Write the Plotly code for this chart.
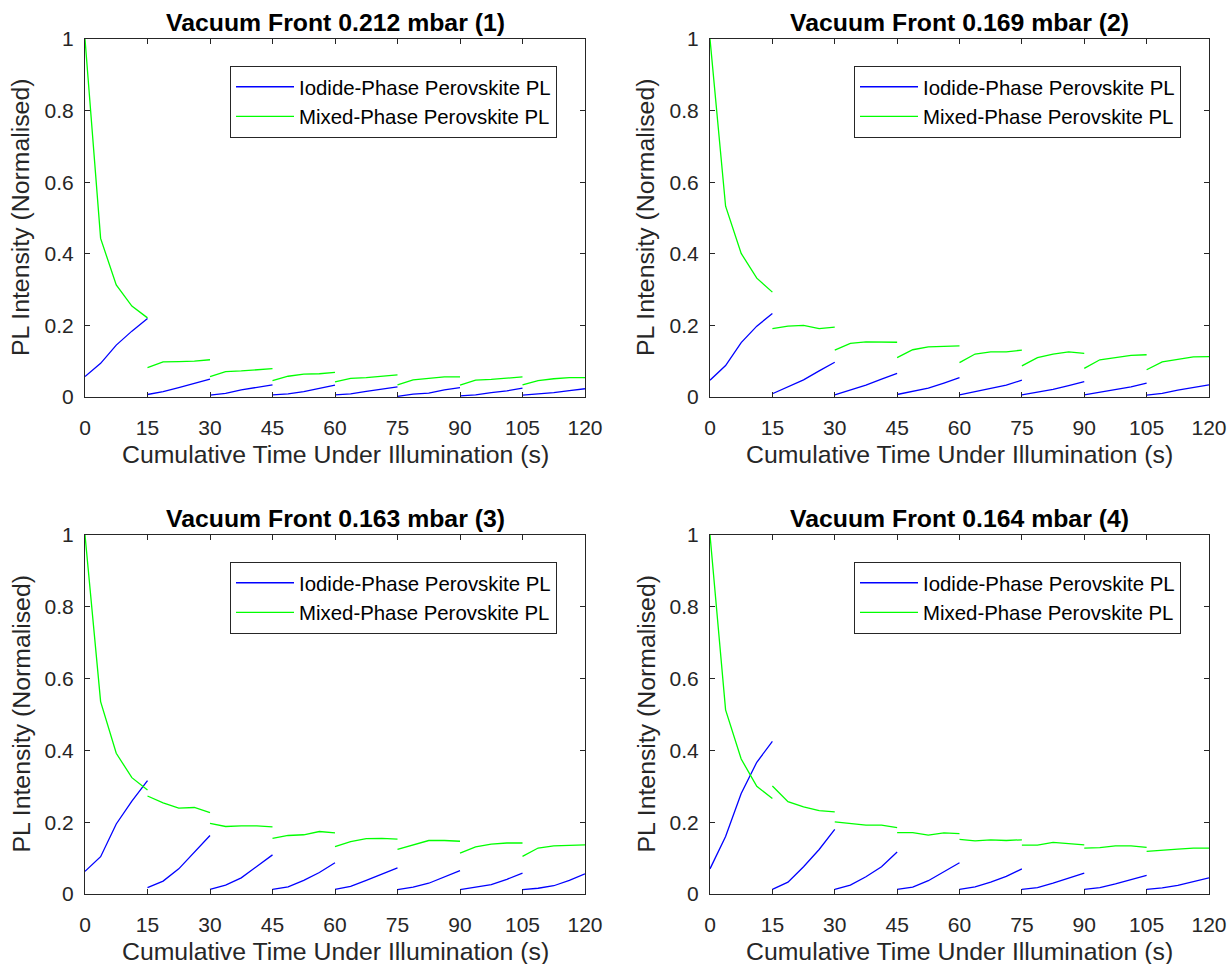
import plotly.graph_objects as go

# ---------------- data ----------------
TIME_IN_SEGMENT = [0, 3.75, 7.5, 11.25, 15]
SEGMENT_STARTS = [0, 15, 30, 45, 60, 75, 90, 105]
X_TICKS = [0, 15, 30, 45, 60, 75, 90, 105, 120]
Y_TICKS = [0, 0.2, 0.4, 0.6, 0.8, 1]
Y_TICK_LABELS = ["0", "0.2", "0.4", "0.6", "0.8", "1"]
TITLES = [
    "Vacuum Front 0.212 mbar (1)",
    "Vacuum Front 0.169 mbar (2)",
    "Vacuum Front 0.163 mbar (3)",
    "Vacuum Front 0.164 mbar (4)",
]
SERIES_NAMES = ["Iodide-Phase Perovskite PL", "Mixed-Phase Perovskite PL"]
X_LABEL = "Cumulative Time Under Illumination (s)"
Y_LABEL = "PL Intensity (Normalised)"

iodide_1 = [
    [0.057, 0.094, 0.145, 0.184, 0.219],
    [0.007, 0.015, 0.026, 0.037, 0.050],
    [0.005, 0.010, 0.020, 0.027, 0.034],
    [0.006, 0.009, 0.015, 0.024, 0.033],
    [0.006, 0.009, 0.016, 0.021, 0.028],
    [0.002, 0.008, 0.011, 0.020, 0.026],
    [0.003, 0.006, 0.012, 0.017, 0.025],
    [0.005, 0.008, 0.012, 0.018, 0.023],
]
mixed_1 = [
    [1.000, 0.443, 0.313, 0.254, 0.221],
    [0.082, 0.098, 0.099, 0.100, 0.104],
    [0.057, 0.071, 0.073, 0.075, 0.079],
    [0.046, 0.058, 0.064, 0.065, 0.069],
    [0.042, 0.052, 0.054, 0.058, 0.062],
    [0.034, 0.048, 0.052, 0.056, 0.056],
    [0.033, 0.047, 0.049, 0.052, 0.056],
    [0.034, 0.046, 0.051, 0.054, 0.054],
]
iodide_2 = [
    [0.047, 0.088, 0.152, 0.198, 0.233],
    [0.009, 0.029, 0.048, 0.073, 0.097],
    [0.006, 0.020, 0.033, 0.050, 0.066],
    [0.007, 0.016, 0.025, 0.039, 0.054],
    [0.006, 0.015, 0.025, 0.033, 0.047],
    [0.006, 0.013, 0.021, 0.032, 0.043],
    [0.006, 0.014, 0.020, 0.028, 0.039],
    [0.005, 0.010, 0.019, 0.027, 0.034],
]
mixed_2 = [
    [1.000, 0.533, 0.401, 0.332, 0.293],
    [0.191, 0.198, 0.200, 0.191, 0.195],
    [0.131, 0.150, 0.154, 0.153, 0.153],
    [0.110, 0.132, 0.140, 0.141, 0.143],
    [0.096, 0.120, 0.126, 0.126, 0.131],
    [0.087, 0.110, 0.120, 0.126, 0.122],
    [0.080, 0.104, 0.110, 0.116, 0.118],
    [0.076, 0.098, 0.105, 0.112, 0.113],
]
iodide_3 = [
    [0.063, 0.104, 0.195, 0.259, 0.316],
    [0.018, 0.036, 0.070, 0.118, 0.163],
    [0.013, 0.025, 0.045, 0.076, 0.109],
    [0.013, 0.020, 0.038, 0.060, 0.087],
    [0.013, 0.021, 0.038, 0.055, 0.073],
    [0.012, 0.019, 0.030, 0.048, 0.065],
    [0.012, 0.018, 0.026, 0.041, 0.058],
    [0.012, 0.016, 0.023, 0.038, 0.056],
]
mixed_3 = [
    [1.000, 0.536, 0.392, 0.324, 0.290],
    [0.273, 0.254, 0.239, 0.241, 0.227],
    [0.197, 0.188, 0.190, 0.190, 0.187],
    [0.155, 0.163, 0.165, 0.174, 0.170],
    [0.132, 0.146, 0.154, 0.155, 0.153],
    [0.124, 0.136, 0.149, 0.149, 0.147],
    [0.114, 0.131, 0.139, 0.142, 0.142],
    [0.105, 0.128, 0.134, 0.135, 0.137],
]
iodide_4 = [
    [0.070, 0.160, 0.280, 0.367, 0.425],
    [0.013, 0.033, 0.076, 0.124, 0.180],
    [0.013, 0.025, 0.048, 0.076, 0.117],
    [0.013, 0.019, 0.037, 0.063, 0.087],
    [0.013, 0.020, 0.033, 0.049, 0.070],
    [0.013, 0.018, 0.030, 0.044, 0.058],
    [0.013, 0.018, 0.028, 0.040, 0.052],
    [0.013, 0.017, 0.024, 0.034, 0.045],
]
mixed_4 = [
    [1.000, 0.513, 0.376, 0.300, 0.266],
    [0.301, 0.257, 0.243, 0.232, 0.229],
    [0.201, 0.196, 0.192, 0.192, 0.185],
    [0.171, 0.171, 0.164, 0.170, 0.168],
    [0.152, 0.148, 0.151, 0.149, 0.151],
    [0.136, 0.136, 0.144, 0.141, 0.137],
    [0.128, 0.129, 0.134, 0.134, 0.130],
    [0.119, 0.123, 0.125, 0.128, 0.128],
]

PANELS = [(iodide_1, mixed_1), (iodide_2, mixed_2), (iodide_3, mixed_3), (iodide_4, mixed_4)]

# ---------------- layout geometry (pixels) ----------------
W, H = 1231, 964
FONT = "Liberation Sans, Arial, Helvetica, sans-serif"
AX_COLOR = "#262626"
COLORS = ["#0000ff", "#00ff00"]

# plot boxes: (left, right, top, bottom) in px
BOXES = [
    (85, 585, 39, 397),
    (710, 1209, 39, 397),
    (85, 585, 535, 894),
    (710, 1209, 535, 894),
]


def px_x(p):
    return p / W


def px_y(p):
    return 1 - p / H


def build_xy(segments):
    xs, ys = [], []
    for start, seg in zip(SEGMENT_STARTS, segments):
        for t, v in zip(TIME_IN_SEGMENT, seg):
            xs.append(start + t)
            ys.append(v)
        xs.append(None)
        ys.append(None)
    return xs, ys


fig = go.Figure()
annotations = []
layout_updates = {}

for i, (segs_pair, box) in enumerate(zip(PANELS, BOXES)):
    n = i + 1
    xa = "x" if n == 1 else f"x{n}"
    ya = "y" if n == 1 else f"y{n}"
    leg = "legend" if n == 1 else f"legend{n}"
    for name, segs, col in zip(SERIES_NAMES, segs_pair, COLORS):
        xs, ys = build_xy(segs)
        fig.add_trace(go.Scatter(
            x=xs, y=ys, mode="lines", name=name,
            line=dict(color=col, width=1.3),
            xaxis=xa, yaxis=ya, legend=leg, connectgaps=False,
            hoverinfo="skip",
        ))
    l, r, t, b = box
    xkey = "xaxis" if n == 1 else f"xaxis{n}"
    ykey = "yaxis" if n == 1 else f"yaxis{n}"
    layout_updates[xkey] = dict(
        domain=[px_x(l), px_x(r)], anchor=ya, range=[0, 120],
        tickvals=X_TICKS, ticktext=[str(v) for v in X_TICKS],
        ticks="inside", ticklen=5, tickwidth=1, tickcolor=AX_COLOR,
        showline=True, linecolor=AX_COLOR, linewidth=1, mirror="ticks",
        showgrid=False, zeroline=False, ticklabelstandoff=12,
        tickfont=dict(family=FONT, size=21, color=AX_COLOR),
        fixedrange=True, automargin=False,
    )
    layout_updates[ykey] = dict(
        domain=[px_y(b), px_y(t)], anchor=xa, range=[0, 1],
        tickvals=Y_TICKS, ticktext=Y_TICK_LABELS,
        ticks="inside", ticklen=5, tickwidth=1, tickcolor=AX_COLOR,
        showline=True, linecolor=AX_COLOR, linewidth=1, mirror="ticks",
        showgrid=False, zeroline=False, ticklabelstandoff=6,
        tickfont=dict(family=FONT, size=21, color=AX_COLOR),
        fixedrange=True, automargin=False,
    )
    layout_updates[leg] = dict(
        x=px_x(r - 28), y=px_y(t + 27), xanchor="right", yanchor="top",
        bgcolor="white", bordercolor=AX_COLOR, borderwidth=1,
        font=dict(family=FONT, size=20.4, color="black"),
        itemwidth=58, tracegroupgap=0,
    )
    cx = (l + r) / 2
    cy = (t + b) / 2
    annotations.append(dict(
        text=f"<b>{TITLES[i]}</b>", x=px_x(cx), y=px_y(t - 1),
        xref="paper", yref="paper", xanchor="center", yanchor="bottom",
        showarrow=False, font=dict(family=FONT, size=24.8, color="black"),
    ))
    annotations.append(dict(
        text=X_LABEL, x=px_x(cx), y=px_y(b + 57),
        xref="paper", yref="paper", xanchor="center", yanchor="middle",
        showarrow=False, font=dict(family=FONT, size=24.8, color=AX_COLOR),
    ))
    annotations.append(dict(
        text=Y_LABEL, x=px_x(l - 64), y=px_y(cy), textangle=-90,
        xref="paper", yref="paper", xanchor="center", yanchor="middle",
        showarrow=False, font=dict(family=FONT, size=24.8, color=AX_COLOR),
    ))

fig.update_layout(
    template="none",
    width=W, height=H,
    margin=dict(l=0, r=0, t=0, b=0, pad=0, autoexpand=False),
    paper_bgcolor="white", plot_bgcolor="white",
    showlegend=True,
    annotations=annotations,
    **layout_updates,
)

fig.write_html(
    "out.html",
    config={"displayModeBar": False},
    post_script="document.body.style.margin='0';document.body.style.padding='0';",
)
